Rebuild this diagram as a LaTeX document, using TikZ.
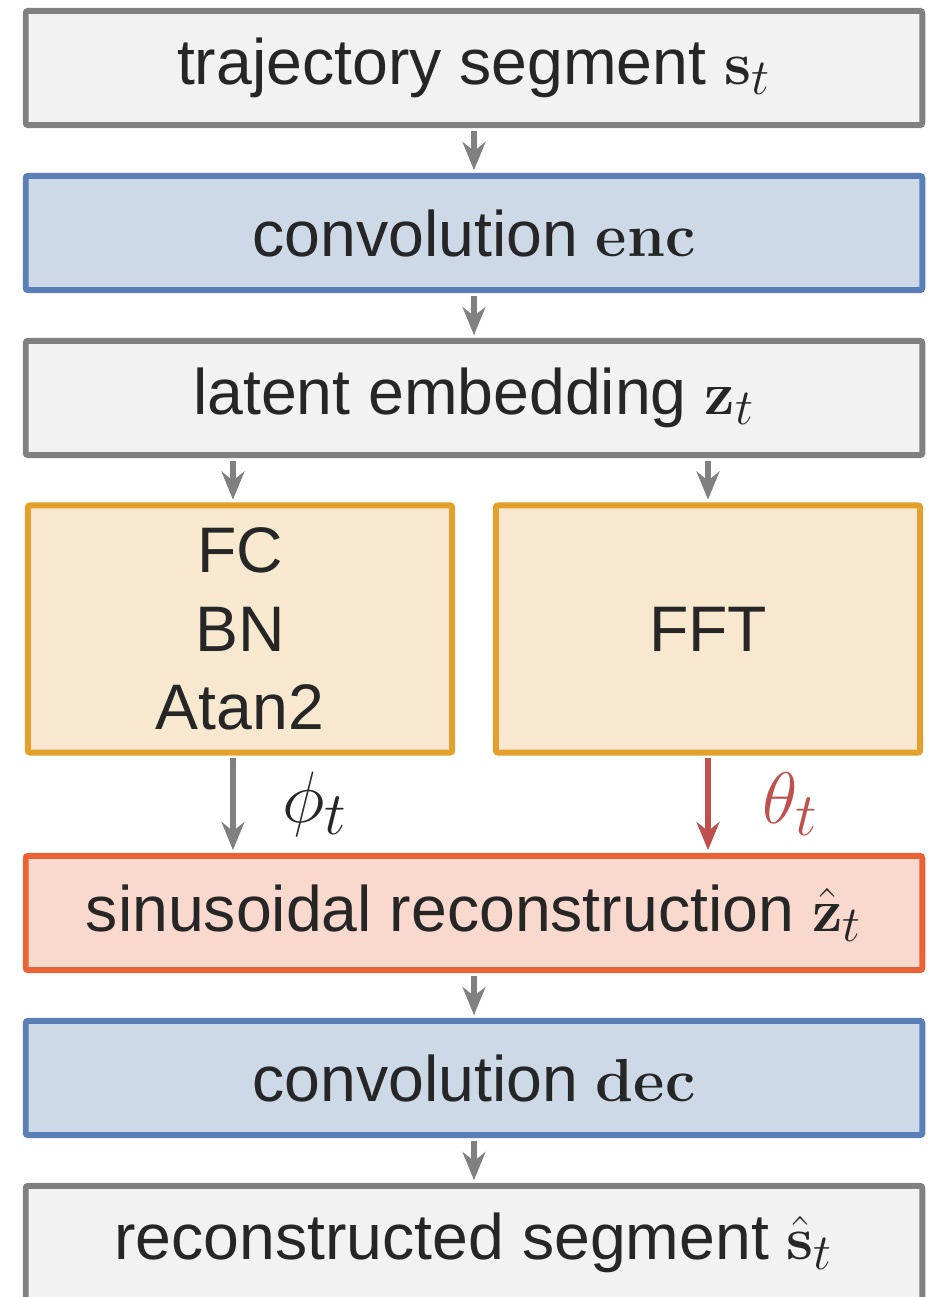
\documentclass[tikz,border=0pt]{standalone}
\usepackage{amsmath}
\usepackage[no-math]{fontspec}
\setmainfont{Liberation Sans}
\DeclareMathSizes{18.3}{18.3}{15}{11}
\DeclareMathSizes{22}{22}{17}{12}
\usepackage{tikz}
\usetikzlibrary{positioning,arrows.meta,calc}
\definecolor{grayline}{HTML}{808080}
\definecolor{grayfill}{HTML}{F2F2F2}
\definecolor{blueline}{HTML}{5A7FB6}
\definecolor{bluefill}{HTML}{CDD9E7}
\definecolor{orgline}{HTML}{E3A02A}
\definecolor{orgfill}{HTML}{F8E8D0}
\definecolor{redline}{HTML}{EA6337}
\definecolor{redfill}{HTML}{F9D8CE}
\definecolor{thetared}{HTML}{C0504D}
\definecolor{txt}{HTML}{262626}
\tikzset{
x=0.01cm,y=-0.01cm,
blk/.style={rectangle,draw,line width=1.7pt,rounded corners=0.6pt,
  minimum width=8.96cm,minimum height=1.14cm,inner sep=0pt,text=txt,
  font=\fontsize{18.3}{22}\selectfont},
gblk/.style={blk,draw=grayline,fill=grayfill},
bblk/.style={blk,draw=blueline,fill=bluefill},
rblk/.style={blk,draw=redline,fill=redfill},
oblk/.style={blk,draw=orgline,fill=orgfill,minimum width=4.24cm,
  minimum height=2.47cm,align=center,font=\fontsize{18.3}{22.3}\selectfont},
flow/.style={-{Stealth[length=8pt,width=6.5pt,inset=2.6pt]},draw=grayline,line width=1.5pt,shorten <=0.8pt,shorten >=0.8pt},
rflow/.style={flow,draw=thetared},
el/.style={font=\fontsize{22}{24}\selectfont,text=txt},
}
\begin{document}
\begin{tikzpicture}
\useasboundingbox (0,0) rectangle (937,1297);
\clip (0,0) rectangle (937,1297);
\node[gblk] (traj) at (474,68) {trajectory segment $\mathbf{s}_t$};
\node[bblk] (enc) at (474,233) {convolution $\mathbf{enc}$};
\node[gblk] (lat) at (474,398) {latent embedding $\mathbf{z}_t$};
\node[oblk] (fc) at (240,629) {FC\\BN\\Atan2};
\node[oblk] (fft) at (708,629) {FFT};
\node[rblk] (sin) at (474,913) {sinusoidal reconstruction $\hat{\mathbf{z}}_t$};
\node[bblk] (dec) at (474,1078) {convolution $\mathbf{dec}$};
\node[gblk] (rec) at (474,1243) {reconstructed segment $\hat{\mathbf{s}}_t$};

\draw[flow] (traj) -- (enc);
\draw[flow] (enc) -- (lat);
\draw[flow] ([xshift=-2]fc.north |- lat.south) -- ([xshift=-2]fc.north);
\draw[flow] (fft.north |- lat.south) -- (fft.north);
\draw[flow] ([xshift=-2]fc.south) -- node[el,right=0.35cm] {$\phi_t$} ([xshift=-2]fc.south |- sin.north);
\draw[rflow] (fft.south) -- node[el,right=0.4cm,text=thetared] {$\theta_t$} (fft.south |- sin.north);
\draw[flow] (sin) -- (dec);
\draw[flow] (dec) -- (rec);
\end{tikzpicture}
\end{document}
